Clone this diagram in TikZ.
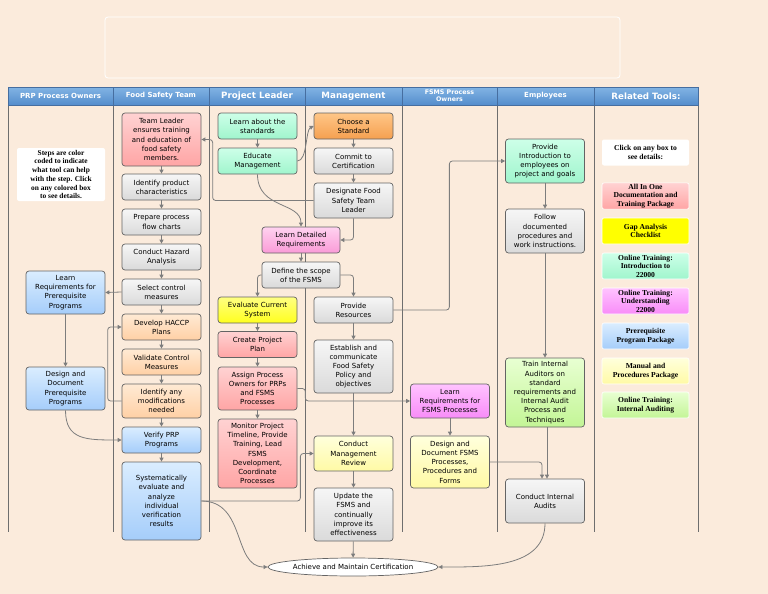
\documentclass[tikz,border=0pt]{standalone}
\usepackage{fontspec}
\setmainfont{DejaVu Sans}
\newfontfamily\toolfont{Liberation Serif}
\usepackage{tikz}
\usetikzlibrary{arrows.meta,shapes.geometric}
\definecolor{bgPeach}{RGB}{251,235,220}
\definecolor{laneLine}{RGB}{110,110,110}
\definecolor{headTop}{RGB}{130,180,228}
\definecolor{headBot}{RGB}{84,141,204}
\definecolor{headEdge}{RGB}{70,110,160}
\definecolor{boxEdge}{RGB}{100,100,100}
\definecolor{lineGray}{RGB}{125,125,125}
\definecolor{redTop}{RGB}{255,210,210}
\definecolor{redBot}{RGB}{255,165,165}
\definecolor{greyTop}{RGB}{246,246,246}
\definecolor{greyBot}{RGB}{218,218,218}
\definecolor{mintTop}{RGB}{205,255,232}
\definecolor{mintBot}{RGB}{160,245,205}
\definecolor{orangeTop}{RGB}{255,198,135}
\definecolor{orangeBot}{RGB}{245,160,80}
\definecolor{peachTop}{RGB}{255,234,212}
\definecolor{peachBot}{RGB}{255,208,165}
\definecolor{blueTop}{RGB}{218,237,255}
\definecolor{blueBot}{RGB}{165,205,250}
\definecolor{yellowTop}{RGB}{255,255,130}
\definecolor{yellowBot}{RGB}{255,255,30}
\definecolor{gapYellow}{RGB}{255,255,0}
\definecolor{lyellowTop}{RGB}{255,255,220}
\definecolor{lyellowBot}{RGB}{255,250,165}
\definecolor{magTop}{RGB}{255,195,255}
\definecolor{magBot}{RGB}{248,140,248}
\definecolor{pinkTop}{RGB}{255,210,240}
\definecolor{pinkBot}{RGB}{250,155,215}
\definecolor{greenTop}{RGB}{232,255,210}
\definecolor{greenBot}{RGB}{195,245,150}
\newcommand{\boxfont}{\fontsize{7}{9.2}\selectfont}
\newcommand{\tipfont}{\toolfont\bfseries\fontsize{7.6}{8.6}\selectfont}

\begin{document}
\begin{tikzpicture}[
    x=1pt, y=-1pt,
    every node/.style={font=\boxfont},
    box/.style={rectangle, rounded corners=3pt, draw=boxEdge, line width=0.7pt,
        minimum width=79pt, minimum height=26pt, align=center, inner sep=1pt},
    greybox/.style={box, top color=greyTop, bottom color=greyBot},
    redbox/.style={box, top color=redTop, bottom color=redBot},
    mintbox/.style={box, top color=mintTop, bottom color=mintBot},
    orangebox/.style={box, top color=orangeTop, bottom color=orangeBot},
    peachbox/.style={box, top color=peachTop, bottom color=peachBot},
    bluebox/.style={box, top color=blueTop, bottom color=blueBot},
    yellowbox/.style={box, top color=yellowTop, bottom color=yellowBot},
    lyellowbox/.style={box, top color=lyellowTop, bottom color=lyellowBot},
    magbox/.style={box, top color=magTop, bottom color=magBot},
    pinkbox/.style={box, top color=pinkTop, bottom color=pinkBot},
    greenbox/.style={box, top color=greenTop, bottom color=greenBot},
    head/.style={rectangle, draw=headEdge, top color=headTop, bottom color=headBot,
        minimum height=18pt, inner sep=0pt, align=center, text=white,
        font=\bfseries\fontsize{7}{7}\selectfont},
    bighead/.style={head, font=\bfseries\fontsize{8.7}{9}\selectfont},
    tool/.style={rectangle, rounded corners=2pt, draw=white, line width=0.6pt,
        minimum width=87pt, minimum height=26pt, align=center, inner sep=1pt, font=\tipfont},
    note/.style={tool, fill=white, draw=none},
    arrow/.style={-{Triangle[length=4pt,width=4pt]}, line width=0.8pt, lineGray, rounded corners=3pt},
    lane/.style={laneLine, line width=0.8pt},
    ]
    \fill[bgPeach] (0,0) rectangle (768,594);
    \useasboundingbox (0,0) rectangle (768,594);
    \draw[white, line width=0.8pt, rounded corners=3pt] (105,17) rectangle (620,78);
    % Lanes
    \foreach \lx in {8,113,209,305,402,497,594,698}
      \draw[lane] (\lx,105) -- (\lx,532);
    \node[head, minimum width=105pt]   (hPRP) at (60.5,96)  {PRP Process Owners};
    \node[head, minimum width=96pt]    (hFST) at (161,96)   {Food Safety Team};
    \node[bighead, minimum width=96pt] (hPL)  at (257,96)   {Project Leader};
    \node[bighead, minimum width=97pt] (hMGT) at (353.5,96) {Management};
    \node[head, minimum width=95pt, font=\bfseries\fontsize{6.3}{7.2}\selectfont]
                                       (hFPO) at (449.5,96) {FSMS Process\\Owners};
    \node[head, minimum width=97pt]    (hEMP) at (545.5,96) {Employees};
    \node[bighead, minimum width=104pt] (hRT) at (646,96)   {Related Tools:};
    % PRP Process Owners
    \node[note, minimum width=88pt, minimum height=53pt, font=\toolfont\bfseries\fontsize{7.4}{8.7}\selectfont]
      (key) at (61,174.5) {Steps are color\\coded to indicate\\what tool can help\\with the step. Click\\on any colored box\\to see details.};
    \node[bluebox, minimum height=43pt] (lrp) at (65.5,292.5) {Learn\\Requirements for\\Prerequisite\\Programs};
    \node[bluebox, minimum height=43pt] (ddp) at (65.5,388.5) {Design and\\Document\\Prerequisite\\Programs};
    % Food Safety Team
    \node[redbox, minimum height=53pt] (tl)  at (161.5,139.5) {Team Leader\\ensures training\\and education of\\food safety\\members.};
    \node[greybox]                     (ipc) at (161.5,187)   {Identify product\\characteristics};
    \node[greybox]                     (ppf) at (161.5,222)   {Prepare process\\flow charts};
    \node[greybox]                     (cha) at (161.5,257)   {Conduct Hazard\\Analysis};
    \node[greybox]                     (scm) at (161.5,292)   {Select control\\measures};
    \node[peachbox]                    (dhp) at (161.5,327)   {Develop HACCP\\Plans};
    \node[peachbox]                    (vcm) at (161.5,362)   {Validate Control\\Measures};
    \node[peachbox, minimum height=34pt] (iam) at (161.5,401) {Identify any\\modifications\\needed};
    \node[bluebox]                     (vpp) at (161.5,440)   {Verify PRP\\Programs};
    \node[bluebox, minimum height=78pt] (sea) at (161.5,501)  {Systematically\\evaluate and\\analyze\\individual\\verification\\results};
    % Project Leader
    \node[mintbox]                     (las) at (257.5,126)   {Learn about the\\standards};
    \node[mintbox]                     (edm) at (257.5,161)   {Educate\\Management};
    \node[pinkbox, minimum width=78pt] (ldr) at (301,240)     {Learn Detailed\\Requirements};
    \node[greybox, minimum width=78pt] (dsc) at (301,275)     {Define the scope\\of the FSMS};
    \node[yellowbox]                   (ecs) at (257.5,310)   {Evaluate Current\\System};
    \node[redbox]                      (cpp) at (257.5,344.5) {Create Project\\Plan};
    \node[redbox, minimum height=43pt] (apo) at (257.5,388.5) {Assign Process\\Owners for PRPs\\and FSMS\\Processes};
    \node[redbox, minimum height=69pt] (mpt) at (257.5,453.5) {Monitor Project\\Timeline, Provide\\Training, Lead\\FSMS\\Development,\\Coordinate\\Processes};
    % Management
    \node[orangebox]                   (cas) at (353.5,126)   {Choose a\\Standard};
    \node[greybox]                     (ctc) at (353.5,161)   {Commit to\\Certification};
    \node[greybox, minimum height=35pt] (dfl) at (353.5,200.5) {Designate Food\\Safety Team\\Leader};
    \node[greybox]                     (prs) at (353.5,310)   {Provide\\Resources};
    \node[greybox, minimum height=53pt] (ecp) at (353.5,366.5) {Establish and\\communicate\\Food Safety\\Policy and\\objectives};
    \node[lyellowbox, minimum height=35pt] (cmr) at (353.5,453.5) {Conduct\\Management\\Review};
    \node[greybox, minimum height=53pt] (ufs) at (353.5,514.5) {Update the\\FSMS and\\continually\\improve its\\effectiveness};
    % FSMS Process Owners
    \node[magbox, minimum height=34pt] (lrf) at (450,401)     {Learn\\Requirements for\\FSMS Processes};
    \node[lyellowbox, minimum height=52pt] (ddf) at (450,462) {Design and\\Document FSMS\\Processes,\\Procedures and\\Forms};
    % Employees
    \node[mintbox, minimum height=44pt]  (pie) at (545,161)   {Provide\\Introduction to\\employees on\\project and goals};
    \node[greybox, minimum height=44pt]  (fdp) at (545,231)   {Follow\\documented\\procedures and\\work instructions.};
    \node[greenbox, minimum height=69pt] (tia) at (545,392.5) {Train Internal\\Auditors on\\standard\\requirements and\\Internal Audit\\Process and\\Techniques};
    \node[greybox, minimum height=44pt]  (cia) at (545,501)   {Conduct Internal\\Audits};
    % Related Tools
    \node[note]                                  (tkey) at (645.5,152.5) {Click on any box to\\see details:};
    \node[tool, top color=redTop, bottom color=redBot]         (t1) at (645.5,196) {All In One\\Documentation and\\Training Package};
    \node[tool, top color=gapYellow, bottom color=gapYellow]   (t2) at (645.5,231) {Gap Analysis\\Checklist};
    \node[tool, top color=mintTop, bottom color=mintBot]       (t3) at (645.5,266) {Online Training:\\Introduction to\\22000};
    \node[tool, top color=magTop, bottom color=magBot]         (t4) at (645.5,301) {Online Training:\\Understanding\\22000};
    \node[tool, top color=blueTop, bottom color=blueBot]       (t5) at (645.5,336) {Prerequisite\\Program Package};
    \node[tool, top color=lyellowTop, bottom color=lyellowBot] (t6) at (645.5,371) {Manual and\\Procedures Package};
    \node[tool, top color=greenTop, bottom color=greenBot]     (t7) at (645.5,405) {Online Training:\\Internal Auditing};
    % Goal
    \node[ellipse, draw=boxEdge, line width=0.7pt, fill=white, minimum width=166pt,
        minimum height=18pt, inner sep=0pt] (acm) at (353,567) {Achieve and Maintain Certification};
    % Arrows: food safety team chain
    \draw[arrow] (tl) -- (ipc);
    \draw[arrow] (ipc) -- (ppf);
    \draw[arrow] (ppf) -- (cha);
    \draw[arrow] (cha) -- (scm);
    \draw[arrow] (scm) -- (dhp);
    \draw[arrow] (dhp) -- (vcm);
    \draw[arrow] (vcm) -- (iam);
    \draw[arrow] (iam) -- (vpp);
    \draw[arrow] (vpp) -- (sea);
    \draw[arrow] (iam.west) -- ++(-14,0) |- (dhp.west);
    % PRP owners
    \draw[arrow] (scm.west) -- (lrp.east);
    \draw[arrow] (lrp) -- (ddp);
    \draw[arrow] (ddp.south) .. controls +(0,30) and +(-35,0) .. (vpp.west);
    % Project leader / management
    \draw[arrow] (las) -- (edm);
    \draw[arrow] (edm.east) .. controls +(10,0) and +(-8,4) .. (cas.west);
    \draw[arrow] (cas) -- (ctc);
    \draw[arrow] (ctc) -- (dfl);
    \draw[arrow] (dfl.west) -- ++(-101,0) |- (tl.east);
    \draw[arrow] (dfl.south) |- (ldr.east);
    \draw[arrow] (edm.south) .. controls +(0,35) and +(0,-25) .. (ldr.north);
    \draw[arrow] (ldr) -- (dsc);
    \draw[arrow] (dsc.west) -| (ecs.north);
    \draw[arrow] (dsc.east) -| (prs.north);
    \draw[arrow] (ecs) -- (cpp);
    \draw[arrow] (cpp) -- (apo);
    \draw[arrow] (apo) -- (mpt);
    \draw[arrow] (prs) -- (ecp);
    \draw[arrow] (ecp) -- (cmr);
    \draw[arrow] (cmr) -- (ufs);
    \draw[arrow] (ufs) -- (acm);
    \draw[arrow] (prs.east) -- ++(56,0) |- (pie.west);
    \draw[arrow] (apo.east) -- ++(8,0) |- (lrf.west);
    \draw[arrow] (sea.east) -- ++(99,0) |- (cmr.west);
    \draw[arrow] (sea.east) .. controls +(45,0) and +(-35,0) .. (acm.west);
    % FSMS owners and employees
    \draw[arrow] (lrf) -- (ddf);
    \draw[arrow] (ddf.east) -| ([xshift=-3pt]cia.north);
    \draw[arrow] (pie) -- (fdp);
    \draw[arrow] (fdp) -- (tia);
    \draw[arrow] ([xshift=2pt]tia.south) -- ([xshift=2pt]cia.north);
    \draw[arrow] (cia.south) .. controls +(0,45) and +(45,0) .. (acm.east);
  \end{tikzpicture}
\end{document}
